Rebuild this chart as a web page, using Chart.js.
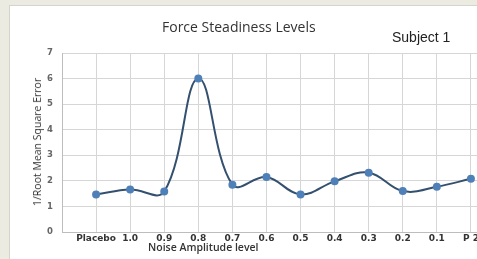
<!DOCTYPE html>
<html lang="en">
<head>
    <meta charset="UTF-8">
    <title>Force Steadiness Levels</title>
    <style>
        body {
            margin: 0;
            width: 477px;
            height: 259px;
            overflow: hidden;
            background-color: #ecebe1;
            font-family: "Open Sans", sans-serif;
        }
        #panel {
            position: absolute;
            left: 9px;
            top: 5px;
            width: 520px;
            height: 270px;
            background: white;
            border: 1px solid #d4d4cc;
        }
        #wrap {
            position: absolute;
            left: 1px;
            top: 1px;
            width: 500px;
            height: 253px;
        }
        .txt { position: absolute; white-space: nowrap; color: #333; }
        #title { left: 152px; top: 11px; font-size: 14px; }
        #subject { left: 382px; top: 23px; font-size: 14px; font-family: "Liberation Sans", Arial, sans-serif; color: #222; }
        #xtitle { left: 138px; top: 235px; font-size: 10.5px; font-weight: 600; line-height: 13px; }
        #ytitle { left: 27px; top: 136px; font-size: 10.5px; font-weight: 500; transform: translate(-50%, -50%) rotate(-90deg); }
    </style>
    <script src="https://cdn.jsdelivr.net/npm/chart.js"></script>
</head>
<body>
    <div id="panel">
        <div id="wrap"><canvas id="chart"></canvas></div>
        <div class="txt" id="title">Force Steadiness Levels</div>
        <div class="txt" id="subject">Subject 1</div>
        <div class="txt" id="xtitle">Noise Amplitude level</div>
        <div class="txt" id="ytitle">1/Root Mean Square Error</div>
    </div>
    <script>
        // noise levels, left to right
        const levels = ['Placebo', '1.0', '0.9', '0.8', '0.7', '0.6', '0.5', '0.4', '0.3', '0.2', '0.1', 'P 2'];
        const inverseRmse = [1.47, 1.66, 1.58, 6.0, 1.85, 2.15, 1.47, 1.98, 2.32, 1.6, 1.77, 2.08];
        const yTicks = [0, 1, 2, 3, 4, 5, 6, 7];

        const points = levels.map((_, i) => ({ x: i + 1, y: inverseRmse[i] }));

        new Chart(document.getElementById('chart'), {
            type: 'line',
            data: {
                datasets: [{
                    data: points,
                    borderColor: '#34506f',
                    borderWidth: 2,
                    backgroundColor: '#4f80b8',
                    pointBackgroundColor: '#4f80b8',
                    pointBorderColor: '#4f80b8',
                    pointRadius: 3,
                    tension: 0.4,
                    fill: false
                }]
            },
            options: {
                responsive: true,
                maintainAspectRatio: false,
                animation: false,
                layout: { padding: { top: 46, right: 4, left: 0, bottom: 0 } },
                plugins: { legend: { display: false }, tooltip: { enabled: false } },
                scales: {
                    x: {
                        type: 'linear',
                        min: 0,
                        max: 13,
                        afterBuildTicks: (axis) => {
                            axis.ticks = [];
                            for (let i = 0; i <= 13; i++) axis.ticks.push({ value: i });
                        },
                        afterFit: (axis) => { axis.height = 28; },
                        grid: { color: '#d6d6d6', lineWidth: 1, tickLength: 0 },
                        border: { color: '#bdbdbd' },
                        ticks: {
                            padding: 1,
                            maxRotation: 0,
                            autoSkip: false,
                            color: '#333',
                            font: { family: 'DejaVu Sans', size: 9, weight: 'bold' },
                            callback: (v) => levels[v - 1] || ''
                        }
                    },
                    y: {
                        min: 0,
                        max: 7,
                        afterBuildTicks: (axis) => { axis.ticks = yTicks.map(v => ({ value: v })); },
                        afterFit: (axis) => { axis.width = 51; },
                        grid: { color: '#d6d6d6', lineWidth: 1, tickLength: 0 },
                        border: { color: '#bdbdbd' },
                        ticks: {
                            padding: 9,
                            color: '#666',
                            font: { family: 'DejaVu Sans', size: 8.5, weight: 'bold' }
                        }
                    }
                }
            }
        });
    </script>
</body>
</html>
